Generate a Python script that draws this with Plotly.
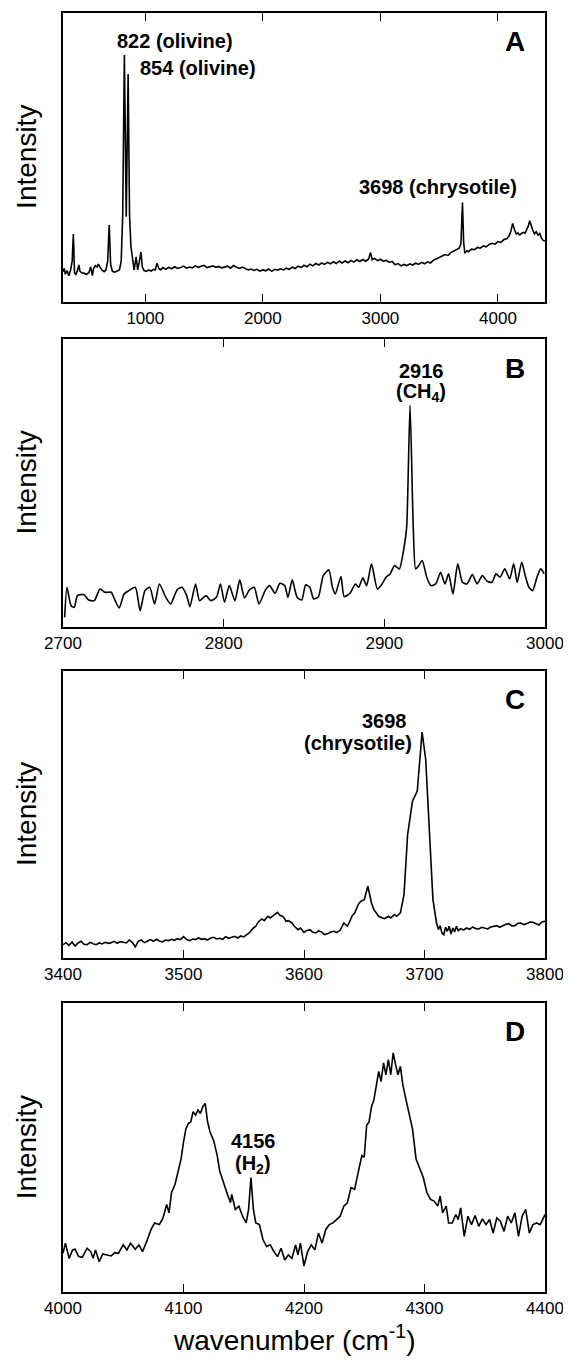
import plotly.graph_objects as go

# ---------------- data (arbitrary intensity units) -------------
wn_A = [300, 310, 320, 335, 350, 365, 378, 388, 398, 410,
        425, 435, 445, 460, 480, 500, 520, 535, 550, 560,
        575, 590, 600, 615, 630, 650, 665, 680, 693, 705,
        720, 740, 760, 780, 795, 808, 822, 838, 854, 866,
        878, 892, 905, 922, 935, 950, 963, 975, 990, 1010,
        1030, 1050, 1070, 1085, 1100, 1115, 1130,
        1150, 1175, 1200, 1225, 1250, 1275, 1300, 1325, 1350, 1375,
        1400, 1425, 1450, 1475, 1500, 1525, 1550, 1575, 1600, 1625,
        1650, 1675, 1700, 1725, 1750, 1775, 1800, 1825, 1850, 1875,
        1900, 1925, 1950, 1975, 2000, 2025, 2050, 2075, 2100, 2125,
        2150, 2175, 2200, 2225, 2250, 2275, 2300, 2325, 2350, 2375,
        2400, 2425, 2450, 2475, 2500,
        2525, 2550, 2575, 2600, 2625, 2650, 2675, 2700, 2725, 2750,
        2775, 2800, 2825, 2850, 2875, 2900, 2916, 2930, 2950, 2975,
        3000, 3025, 3050, 3075, 3100, 3125, 3150, 3175, 3200, 3225,
        3250, 3275, 3300, 3325, 3350, 3375, 3400, 3425, 3450, 3475,
        3500, 3525, 3550, 3575, 3600, 3625, 3650, 3670, 3685, 3698,
        3708, 3718, 3735, 3750, 3775, 3800, 3825, 3850, 3875, 3900,
        3925, 3950, 3975, 4000, 4025, 4050, 4075, 4095, 4110, 4125,
        4140, 4155, 4170, 4185, 4200, 4215, 4230, 4245, 4258, 4270,
        4282, 4295, 4310, 4325, 4340, 4355, 4370, 4385, 4400]
int_A = [10.4, 11.5, 9.5, 10.8, 9.0, 11, 14, 23.4, 10, 9.5,
         11, 12.7, 10.5, 10, 9.8, 9.5, 10, 12, 9, 11.5,
         12.5, 12, 13, 12, 11, 10.4, 11, 14, 26.5, 13,
         10.5, 10.2, 10.5, 11, 14, 30, 85.4, 29.4, 78.8, 30,
         19, 14, 11, 15.5, 11, 14, 17.2, 12, 10.8, 10.5,
         11, 10.6, 11.2, 11, 13.3, 11.5, 11,
         11.8, 11.2, 11.9, 11.4, 12.1, 11.5, 11.8, 12.3, 11.6, 12.0,
         11.7, 12.4, 11.9, 12.2, 12.6, 11.8, 12.1, 12.4, 11.9, 12.2,
         11.7, 12.0, 12.3, 11.6, 12.5, 11.9, 11.5, 12.0, 11.4, 11.0,
         11.3, 10.8, 11.2, 10.6, 11.0, 10.7, 11.3, 10.5, 11.2, 10.9,
         11.4, 11.0, 11.6, 11.2, 12.0, 11.5, 12.3, 11.8, 12.6, 12.1,
         13.0, 12.4, 13.2, 12.7, 13.4,
         12.9, 13.6, 13.1, 13.8, 13.2, 14.0, 13.4, 14.1, 13.5, 14.3,
         13.7, 14.5, 13.9, 14.6, 14.0, 14.8, 17.0, 14.5, 15.0, 14.2,
         14.7, 14.0, 14.3, 13.6, 13.9, 12.8, 13.2, 12.4, 12.9, 12.5,
         13.1, 12.7, 13.3, 12.9, 13.6, 13.1, 13.8, 13.4, 14.3, 14.8,
         15.2, 15.8, 16.3, 16.0, 17.0, 17.5, 17.9, 18.5, 20.0, 34.3,
         20.5, 16.8, 17.6, 17.3, 18.2, 18.0, 18.8, 18.5, 19.3, 19.0,
         19.8, 20.2, 19.9, 20.8, 20.5, 21.5, 21.8, 22.8, 24.5, 27.1,
         25.0, 23.5, 23.8, 23.1, 23.6, 24.0, 23.7, 25.0, 26.2, 28.0,
         26.0, 24.8, 23.5, 24.2, 23.0, 23.6, 22.0, 21.2, 21.0]

wn_B = [2701, 2702.5, 2705, 2707, 2709, 2713, 2716, 2719.5, 2723, 2726,
        2730, 2732, 2735, 2738, 2741, 2745, 2748, 2751, 2754, 2757,
        2760, 2764, 2767, 2771, 2774, 2777, 2779, 2782.5, 2785, 2789,
        2792, 2795.5, 2798, 2800.5, 2803.5, 2807, 2810, 2813, 2816, 2819,
        2822, 2826, 2828.6, 2832, 2835, 2838, 2840, 2842.7, 2845.7, 2848.6,
        2851, 2853.6, 2856, 2859, 2862, 2865.5, 2867.7, 2869.5, 2873, 2875,
        2878.6, 2882, 2884, 2886.6, 2889, 2892, 2895.7, 2898.6, 2901, 2903.6,
        2906.4, 2909.3, 2912.3, 2913.9, 2916, 2918, 2919.5, 2921.4, 2923.6, 2926.4,
        2929, 2932, 2935, 2937.7, 2940, 2942.7, 2945.7, 2948.6, 2951.4, 2954.8,
        2957.7, 2961, 2964, 2967, 2969.5, 2972, 2975, 2978, 2980.5, 2982.7,
        2985.5, 2987.7, 2990, 2992.3, 2995, 2997.3, 2999.5]
int_B = [28, 118, 63, 58, 93, 96, 80, 78, 113, 103,
         103, 83, 56, 98, 108, 118, 48, 108, 118, 68,
         128, 88, 68, 110, 118, 93, 60, 128, 78, 93,
         78, 88, 128, 73, 123, 78, 140, 86, 110, 118,
         68, 110, 123, 100, 130, 123, 88, 140, 88, 80,
         125, 118, 83, 90, 153, 170, 118, 98, 150, 90,
         100, 128, 118, 146, 123, 188, 113, 128, 148, 158,
         183, 173, 238, 298, 663, 298, 173, 183, 198, 148,
         123, 128, 163, 128, 158, 98, 188, 133, 128, 156,
         128, 153, 136, 133, 158, 148, 173, 143, 188, 133,
         193, 153, 118, 108, 148, 173, 158]

wn_C = [3400, 3402.5, 3405, 3407.5, 3410, 3412.5, 3415, 3417.5, 3420, 3422.5,
        3425, 3427.5, 3430, 3432.5, 3435, 3437.5, 3440, 3442.5, 3445, 3447.5,
        3450, 3452.5, 3455, 3457.5, 3460, 3462.5, 3465, 3467.5, 3470, 3472.5,
        3475, 3477.5, 3480, 3482.5, 3485, 3487.5, 3490, 3492.5, 3495, 3497.5,
        3500, 3502.5, 3505, 3507.5, 3510, 3512.5, 3515, 3517.5, 3520, 3522.5,
        3525, 3527.5, 3530, 3532.5, 3535, 3537.5, 3540, 3542.5, 3545, 3547.5,
        3550, 3553, 3555, 3558, 3560, 3562, 3565, 3567, 3570, 3572,
        3575, 3578, 3580, 3582, 3584, 3585, 3587, 3590, 3592, 3595,
        3597, 3600, 3602, 3605, 3607, 3610, 3612, 3615, 3617, 3620,
        3622, 3625, 3627, 3630, 3633, 3636, 3638, 3640, 3642, 3645,
        3647, 3650, 3653, 3656, 3658, 3660, 3662, 3665, 3667, 3670,
        3672, 3675, 3677, 3680, 3683, 3686, 3690, 3694, 3698, 3701,
        3704, 3707, 3710, 3711.5, 3713, 3714.5, 3716, 3717.5, 3719, 3720.5,
        3722, 3723.5, 3725, 3726.5, 3728, 3730, 3732.5, 3735, 3737.5, 3740,
        3742.5, 3745, 3747.5, 3750, 3752.5, 3755, 3757.5, 3760, 3762.5, 3765,
        3767.5, 3770, 3772.5, 3775, 3777.5, 3780, 3782.5, 3785, 3787.5, 3790,
        3792.5, 3795, 3797.5, 3800]
int_C = [40, 46, 38, 48, 36, 45, 50, 41, 40, 47,
         43, 40, 45, 42, 47, 44, 46, 50, 44, 49,
         47, 45, 54, 47, 33, 50, 54, 46, 50, 55,
         50, 56, 51, 48, 54, 52, 56, 53, 58, 55,
         64, 56, 52, 57, 55, 60, 56, 58, 54, 60,
         62, 57, 59, 56, 64, 59, 62, 65, 60, 66,
         63, 70, 77, 90, 95, 108, 117, 112, 125, 120,
         130, 137, 128, 125, 118, 110, 112, 105, 95, 85,
         90, 77, 82, 85, 78, 75, 82, 77, 70, 73,
         78, 80, 76, 83, 105, 95, 110, 127, 135, 160,
         170, 175, 215, 165, 145, 133, 125, 120, 118, 125,
         120, 130, 125, 135, 190, 370, 470, 500, 677, 595,
         365, 175, 105, 85, 97, 75, 70, 92, 80, 95,
         72, 90, 78, 95, 82, 88, 84, 90, 86, 93,
         88, 87, 92, 90, 87, 93, 95, 97, 92, 97,
         101, 103, 96, 97, 104, 105, 100, 103, 108, 107,
         102, 99, 108, 110]

wn_D = [4000, 4002, 4005, 4008, 4010, 4013, 4016, 4020, 4023, 4025,
        4027, 4030, 4033, 4037, 4040, 4043, 4046, 4050, 4053, 4056,
        4060, 4063, 4066, 4070, 4073, 4076, 4080, 4083, 4086, 4088,
        4090, 4093, 4096, 4098, 4100, 4102, 4104, 4106, 4108, 4110,
        4112, 4114, 4116, 4118, 4120, 4122, 4125, 4128, 4130, 4133,
        4136, 4139, 4140, 4143, 4146, 4149, 4152, 4154, 4156, 4158,
        4160, 4163, 4166, 4169, 4172, 4175, 4178, 4181, 4184, 4187,
        4190, 4193, 4195, 4197, 4200, 4203, 4206, 4209, 4212, 4215,
        4218, 4221, 4224, 4227, 4230, 4233, 4236, 4239, 4242, 4245,
        4248, 4250, 4252, 4254, 4256, 4258, 4260, 4262, 4264, 4266,
        4268, 4270, 4272, 4274, 4276, 4278, 4280, 4282, 4285, 4288,
        4290, 4293, 4296, 4299, 4302, 4305, 4308, 4311, 4313, 4315,
        4318, 4320, 4323, 4326, 4328, 4330, 4333, 4336, 4339, 4342,
        4345, 4348, 4351, 4354, 4357, 4360, 4363, 4366, 4369, 4372,
        4375, 4378, 4381, 4384, 4387, 4390, 4393, 4396, 4400]
int_D = [115, 145, 100, 125, 127, 105, 103, 130, 120, 100,
         125, 90, 113, 110, 107, 117, 115, 140, 125, 145,
         127, 140, 120, 155, 185, 205, 200, 220, 260, 235,
         295, 320, 365, 395, 445, 485, 500, 505, 535, 525,
         540, 530, 550, 560, 505, 475, 450, 405, 360, 325,
         295, 265, 290, 245, 255, 225, 205, 245, 340, 245,
         205, 200, 155, 135, 140, 120, 105, 130, 95, 110,
         100, 140, 110, 145, 77, 120, 140, 125, 175, 145,
         185, 200, 205, 215, 225, 255, 265, 310, 305, 355,
         405, 400, 495, 505, 550, 570, 615, 655, 625, 680,
         645, 690, 645, 710, 675, 645, 670, 615, 565, 515,
         485, 395, 365, 340, 295, 275, 270, 255, 285, 235,
         255, 205, 205, 230, 215, 250, 165, 225, 200, 227,
         195, 217, 200, 215, 175, 220, 210, 180, 225, 205,
         235, 165, 225, 245, 175, 200, 205, 200, 230]

ticks_A = [1000, 2000, 3000, 4000]
ticks_B = [2700, 2800, 2900, 3000]
ticks_C = [3400, 3500, 3600, 3700, 3800]
ticks_D = [4000, 4100, 4200, 4300, 4400]

labels = ["A", "B", "C", "D"]

for a, b in [(wn_A, int_A), (wn_B, int_B), (wn_C, int_C), (wn_D, int_D)]:
    assert len(a) == len(b), (len(a), len(b))

# ---------------- figure -------------
OFF = 8                       # default page margin of the html body
W, H = 571 - OFF, 1365 - OFF  # figure size so that the page is 571 x 1365
FONT = "Liberation Sans, Arial, Helvetica, sans-serif"

PL, PR = 63.3, 545.0   # page x of the plot frame


def py(v):   # page pixel -> figure pixel (vertical)
    return v - OFF


def paper_x(page_x):   # page pixel -> plotly paper x (plot-area relative)
    return (page_x - PL) / (PR - PL)


panels = [
    dict(x=wn_A, y=int_A, xr=[300, 4400], yr=[0, 100], ticks=ticks_A, top=12.7, bot=301.7, shape="linear"),
    dict(x=wn_B, y=int_B, xr=[2700, 3000], yr=[0, 861], ticks=ticks_B, top=339, bot=626.7, shape="spline"),
    dict(x=wn_C, y=int_C, xr=[3400, 3800], yr=[0, 861], ticks=ticks_C, top=670.7, bot=958, shape="linear"),
    dict(x=wn_D, y=int_D, xr=[4000, 4400], yr=[0, 858], ticks=ticks_D, top=1003, bot=1292, shape="linear"),
]

fig = go.Figure()
layout = dict(
    width=W, height=H,
    margin=dict(l=PL - OFF, r=W - (PR - OFF), t=0, b=0, autoexpand=False),
    paper_bgcolor="white", plot_bgcolor="white",
    showlegend=False,
    font=dict(family=FONT, color="black"),
)
annotations = []
for i, p in enumerate(panels):
    n = "" if i == 0 else str(i + 1)
    xa, ya = "x" + n, "y" + n
    fig.add_trace(go.Scatter(x=p["x"], y=p["y"], mode="lines",
                             line=dict(color="black", width=1.6, shape=p["shape"], smoothing=0.6),
                             xaxis=xa, yaxis=ya, hoverinfo="skip"))
    dom = [1 - py(p["bot"]) / H, 1 - py(p["top"]) / H]
    layout["xaxis" + n] = dict(
        domain=[0, 1], anchor=ya, range=p["xr"], tickvals=p["ticks"],
        ticks="inside", ticklen=8, tickwidth=1.3, tickcolor="black",
        showline=True, linecolor="black", linewidth=2, mirror="allticks",
        showgrid=False, zeroline=False,
        tickfont=dict(family=FONT, size=17, color="black"),
    )
    layout["yaxis" + n] = dict(
        domain=dom, anchor=xa, range=p["yr"], showticklabels=False, ticks="",
        showline=True, linecolor="black", linewidth=2, mirror=True,
        showgrid=False, zeroline=False,
    )
    # panel letter
    annotations.append(dict(text="<b>%s</b>" % labels[i], xref=xa + " domain", yref=ya + " domain",
                            x=paper_x(527), y=1 - 29 / (p["bot"] - p["top"]),
                            xanchor="right", yanchor="middle",
                            showarrow=False, font=dict(size=28, family=FONT, color="black")))
    # y title
    annotations.append(dict(text="Intensity", xref="paper", yref=ya + " domain",
                            x=paper_x(27), y=0.5, xanchor="center", yanchor="middle", textangle=-90,
                            showarrow=False, font=dict(size=28, family=FONT, color="black")))

BF = dict(size=20, family=FONT, color="black")
peak_notes = [
    ("x", "y", 1251, 90.2, "<b>822 (olivine)</b>"),
    ("x", "y", 1446, 80.9, "<b>854 (olivine)</b>"),
    ("x", "y", 3489, 39.7, "<b>3698 (chrysotile)</b>"),
    ("x2", "y2", 2923, 765, "<b>2916</b>"),
    ("x2", "y2", 2923, 702, "<b>(CH<sub>4</sub>)</b>"),
    ("x3", "y3", 3667, 710, "<b>3698</b>"),
    ("x3", "y3", 3645, 645, "<b>(chrysotile)</b>"),
    ("x4", "y4", 4158, 448, "<b>4156</b>"),
    ("x4", "y4", 4158, 380, "<b>(H<sub>2</sub>)</b>"),
]
for xr, yr, x, y, t in peak_notes:
    annotations.append(dict(text=t, xref=xr, yref=yr, x=x, y=y, xanchor="center", yanchor="middle",
                            showarrow=False, font=BF))

annotations.append(dict(text="wavenumber (cm<sup>-1</sup>)", xref="paper", yref="paper",
                        x=paper_x(295), y=1 - py(1338) / H, xanchor="center", yanchor="middle",
                        showarrow=False, font=dict(size=28, family=FONT, color="black")))
layout["annotations"] = annotations
fig.update_layout(**layout)

fig.write_html("out.html")
